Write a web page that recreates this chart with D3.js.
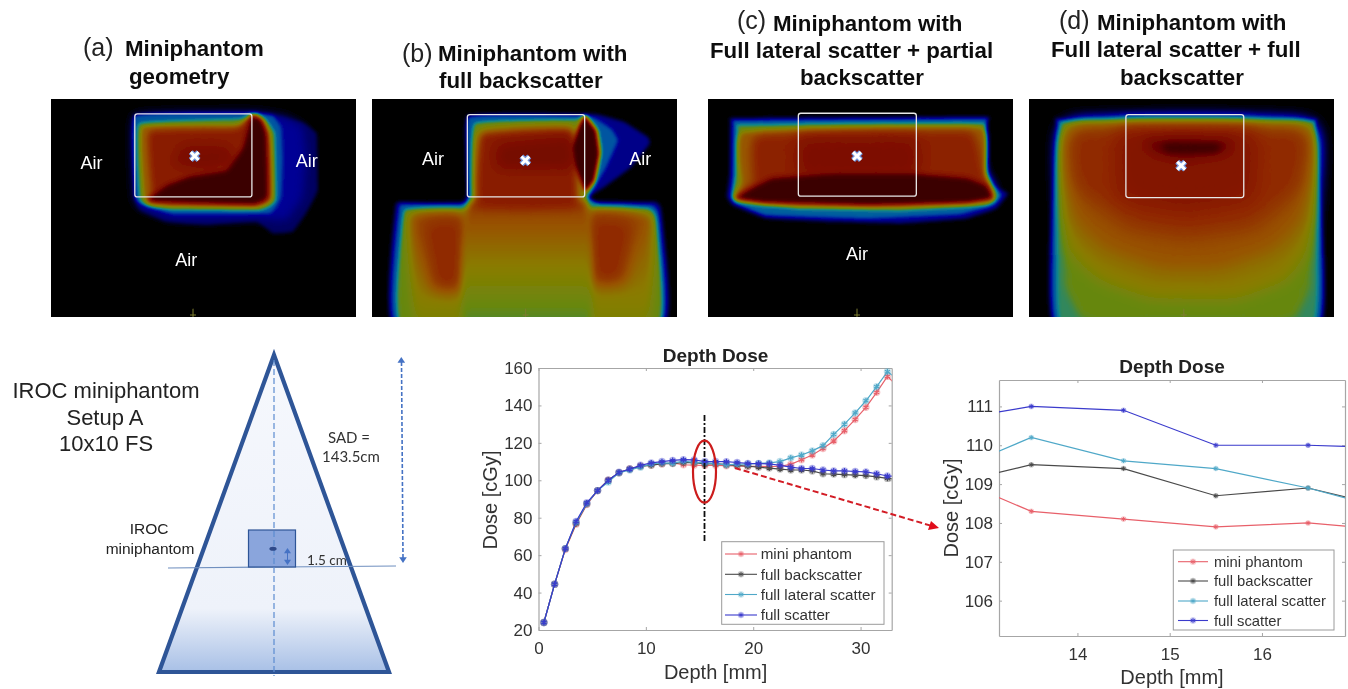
<!DOCTYPE html>
<html>
<head>
<meta charset="utf-8">
<script src="https://cdn.jsdelivr.net/npm/d3@7"></script>
<style>
  body { margin: 0; background: #fff; }
  svg { display: block; font-family: "Liberation Sans", Arial, sans-serif; }
  .calibri { font-family: Lato, "Open Sans", sans-serif; }
</style>
</head>
<body>
<svg width="1348" height="689"></svg>
<script>
// depth dose curves, one value per depth
const depths = [0.5,1.5,2.5,3.5,4.5,5.5,6.5,7.5,8.5,9.5,10.5,11.5,12.5,13.5,14.5,15.5,16.5,17.5,18.5,19.5,20.5,21.5,22.5,23.5,24.5,25.5,26.5,27.5,28.5,29.5,30.5,31.5,32.5,33.5];
const miniPhantom = [24,44.5,63,76.5,87,94.5,100,104,106,107.5,108.2,108.7,109.3,108.3,108.1,107.9,108,107.8,107.7,107.5,107.5,107.3,107.5,108.5,111,113.5,117,121,126.5,132.5,139,147,155.5,150];
const fullBackscatter = [24,44.5,63.5,77,87.5,94.5,100,104,106,107.5,108,108.9,108.93,109.5,109.4,108.7,108.9,108.33,108,107.5,107,106.5,106,105.5,105.5,105,103.5,103.3,103,102.8,102.5,101.8,101,100.5];
const fullLateral = [24,44.5,63.5,77.5,87.5,94.5,99,104,105.5,107,108.7,109.3,109.2,110.2,109.6,109.4,108.9,108.27,108.6,108.6,109,109.3,110,112,113.5,115.7,118.5,124.5,130,136,142.5,150,158,154];
const fullScatter = [24,44.5,63.5,78,88,94.5,100,104.3,106,108,109.3,110,110.6,111,110.9,110,110,109.93,109.5,109,108.9,108.8,108,107,106.3,106.3,105.5,105,105,104.7,104.5,103.5,102.3,102];

const seriesNames = ["mini phantom", "full backscatter", "full lateral scatter", "full scatter"];
const seriesValues = [miniPhantom, fullBackscatter, fullLateral, fullScatter];
const seriesColors = ["#e8606a", "#4a4a4a", "#4fa8c8", "#3a3acc"];

const mainXTicks = [0, 10, 20, 30];
const mainYTicks = [20, 40, 60, 80, 100, 120, 140, 160];
const zoomXTicks = [14, 15, 16];
const zoomYTicks = [106, 107, 108, 109, 110, 111];

// dose colour map for the four CT panels
const doseLevels = [0, 0.08, 0.2, 0.32, 0.42, 0.55, 0.65, 0.75, 0.85, 0.93, 1];
const doseColors = ["#000000", "#00003c", "#000098", "#0050a4", "#10888c", "#68880f", "#8a7c00", "#985400", "#8f2400", "#780800", "#3c0000"];

// isodose outlines [level, points, extra blur]; a level pair is a top-to-bottom gradient
const isodoseA = [
  [0.13, [[285,320],[285,75],[640,65],[700,70],[790,95],[832,130],[835,300],[800,370],[760,425],[700,430],[650,395],[500,405],[380,395],[300,360]], 1],
  [0.2, [[285,320],[285,75],[640,65],[740,80],[790,110],[800,200],[790,320],[740,390],[650,385],[400,385],[300,350]], 5],
  [0.33, [[285,318],[285,75],[640,68],[700,75],[725,110],[730,200],[725,320],[690,370],[400,372],[300,340]], 1],
  [0.55, [[300,325],[298,100],[620,85],[650,68],[680,90],[705,130],[708,330],[660,360],[400,358],[320,345]], 1],
  [0.72, [[312,310],[308,110],[600,103],[635,72],[668,88],[692,135],[695,325],[650,350],[400,347],[320,330]], 1],
  [0.87, [[335,300],[328,122],[590,115],[630,78],[668,100],[685,160],[685,335],[335,340]], 3],
  [0.92, [[400,220],[430,165],[560,165],[590,215],[500,240]], 6],
  [1, [[330,322],[380,285],[450,258],[560,240],[610,170],[635,75],[665,85],[682,130],[685,320],[640,345],[330,335]], 2]
];
const isodoseB = [
  [0.18, [[85,700],[92,350],[110,335],[305,332],[308,75],[660,70],[700,72],[780,95],[850,140],[855,160],[800,230],[720,290],[672,320],[700,335],[870,335],[890,360],[900,700]], 1],
  [0.33, [[95,700],[103,355],[120,342],[312,340],[312,80],[655,75],[695,85],[740,115],[760,150],[725,230],[680,310],[675,325],[710,345],[860,345],[880,370],[890,700]], 1],
  [0.55, [[110,700],[118,370],[135,358],[325,352],[330,100],[630,88],[665,75],[700,120],[710,180],[690,280],[665,320],[680,355],[850,358],[870,385],[880,700]], 1],
  [[0.78,0.6], [[135,375],[302,372],[302,700],[150,700]], 5],
  [[0.78,0.6], [[672,362],[862,378],[855,700],[675,700]], 5],
  [0.84, [[170,395],[300,385],[300,600],[200,600]], 8],
  [0.84, [[672,380],[810,395],[780,580],[675,580]], 8],
  [[0.82,0.5], [[310,335],[665,335],[672,700],[300,700]], 3],
  [0.87, [[345,125],[625,112],[640,350],[335,350]], 4],
  [0.93, [[400,160],[620,140],[625,235],[400,235]], 6],
  [1, [[660,75],[695,120],[705,190],[690,270],[660,305],[632,230],[624,170],[640,110]], 1.5]
];
const isodoseC = [
  [0.18, [[92,92],[108,82],[852,78],[865,92],[868,250],[880,285],[925,310],[890,355],[800,385],[600,400],[400,395],[200,385],[100,345],[82,320],[90,250]], 1],
  [0.35, [[102,100],[116,90],[847,85],[858,100],[860,250],[875,290],[905,315],[880,345],[780,372],[500,385],[200,375],[110,340],[95,320],[100,250]], 1],
  [0.55, [[115,115],[128,105],[842,100],[852,115],[855,250],[870,290],[885,325],[860,345],[600,360],[300,355],[130,335],[100,322],[110,250]], 1],
  [0.74, [[130,125],[845,112],[852,260],[880,325],[600,348],[300,345],[110,325],[125,280]], 2],
  [0.86, [[170,135],[810,122],[850,240],[875,322],[115,322],[160,280]], 5],
  [0.91, [[300,140],[650,140],[650,260],[300,260]], 8],
  [1, [[105,325],[150,295],[220,262],[400,250],[650,250],[800,262],[860,285],[880,325],[800,340],[500,347],[200,340]], 2]
];
const isodoseD = [
  [0.18, [[100,700],[108,105],[125,83],[875,83],[890,105],[905,700]], 1],
  [0.35, [[110,700],[118,108],[132,92],[868,92],[884,112],[895,700]], 1],
  [0.47, [[125,700],[130,118],[145,100],[860,100],[875,120],[880,700]], 1],
  [0.55, [[135,580],[138,118],[152,106],[860,106],[872,118],[872,580],[830,680],[760,700],[240,700],[180,680]], 3],
  [0.66, [[142,470],[145,115],[868,115],[866,470],[800,570],[650,625],[400,625],[240,570]], 8],
  [0.76, [[150,380],[150,115],[865,115],[860,380],[770,480],[600,540],[420,540],[250,480]], 10],
  [0.84, [[165,290],[160,115],[855,115],[840,290],[700,410],[500,440],[330,410]], 10],
  [0.89, [[300,118],[700,118],[700,320],[500,360],[300,320]], 10],
  [0.96, [[370,150],[480,140],[640,150],[620,190],[500,210],[400,190]], 6],
  [1, [[430,160],[600,160],[590,185],[440,185]], 3]
];

const panelFrames = [[51, 99], [372, 99], [708, 99], [1029, 99]];
const panelImageX = [[33, 950], [22, 937], [25, 940], [27, 943]];
const panelOutlines = [isodoseA, isodoseB, isodoseC, isodoseD];
const panelBoxes = [[285, 70, 637, 320], [308, 72, 660, 320], [296, 68, 650, 318], [318, 72, 672, 322]];
const panelCrosshairs = [[465, 197], [482, 210], [472, 197], [484, 226]];
const panelOrigins = [460, 483, 472, 492];

const airLabels = [[0, 155, 235], [0, 802, 230], [0, 440, 527], [1, 205, 225], [1, 827, 225], [2, 472, 510]];

const panelTitles = [
  { tag: "(a)", tagX: 83, tagY: 56, lines: [["Miniphantom", 125, 56], ["geometry", 129, 84]] },
  { tag: "(b)", tagX: 402, tagY: 62, lines: [["Miniphantom with", 438, 61], ["full backscatter", 439, 88]] },
  { tag: "(c)", tagX: 737, tagY: 29, lines: [["Miniphantom with", 773, 31], ["Full lateral scatter + partial", 710, 58], ["backscatter", 800, 85]] },
  { tag: "(d)", tagX: 1059, tagY: 29, lines: [["Miniphantom with", 1097, 30], ["Full lateral scatter + full", 1051, 57], ["backscatter", 1120, 85]] }
];

const svg = d3.select("svg");
const defs = svg.append("defs");
const root = svg.append("g").attr("filter", "url(#soften)");

defs.append("filter").attr("id", "soften")
    .attr("filterUnits", "userSpaceOnUse")
    .attr("x", 0).attr("y", 0).attr("width", 1348).attr("height", 689)
  .append("feGaussianBlur").attr("stdDeviation", 0.35);

// grey dose image -> blur -> colour map
const doseScale = d3.scaleLinear().domain(doseLevels).range(doseColors);
const tableSteps = d3.range(0, 1.0001, 1 / 64).map(t => d3.rgb(doseScale(t)));
const doseFilter = defs.append("filter").attr("id", "doseMap")
    .attr("color-interpolation-filters", "sRGB")
    .attr("filterUnits", "userSpaceOnUse")
    .attr("x", 0).attr("y", 0).attr("width", 1348).attr("height", 689);
doseFilter.append("feGaussianBlur").attr("stdDeviation", 1.6);
const transfer = doseFilter.append("feComponentTransfer");
[["feFuncR", "r"], ["feFuncG", "g"], ["feFuncB", "b"]].forEach(([fn, ch]) => {
  transfer.append(fn).attr("type", "table")
      .attr("tableValues", tableSteps.map(c => (c[ch] / 255).toFixed(3)).join(" "));
});

const grey = v => { const g = Math.round(v * 255); return `rgb(${g},${g},${g})`; };

// one soft edge filter per blur amount
const softFilters = new Set();
function softEdge(amount) {
  const id = "soft" + String(amount).replace(".", "_");
  if (!softFilters.has(id)) {
    softFilters.add(id);
    defs.append("filter").attr("id", id)
        .attr("color-interpolation-filters", "sRGB")
        .attr("filterUnits", "userSpaceOnUse")
        .attr("x", 0).attr("y", 0).attr("width", 1348).attr("height", 689)
      .append("feGaussianBlur").attr("stdDeviation", amount);
  }
  return `url(#${id})`;
}

function drawPanel(i) {
  const [left, top] = panelFrames[i];
  const frameW = 305, frameH = 218;
  const x = d3.scaleLinear().domain(panelImageX[i]).range([left, left + frameW]);
  const y = d3.scaleLinear().domain([25, 682]).range([top, top + frameH]);
  const line = d3.line().x(d => x(d[0])).y(d => y(d[1])).curve(d3.curveCardinalClosed.tension(0.75));

  defs.append("clipPath").attr("id", "frame" + i)
    .append("rect").attr("x", left).attr("y", top).attr("width", frameW).attr("height", frameH);

  const g = root.append("g").attr("clip-path", `url(#frame${i})`);
  const dose = g.append("g").attr("filter", "url(#doseMap)");
  dose.append("rect").attr("x", left - 20).attr("y", top - 20)
      .attr("width", frameW + 40).attr("height", frameH + 40).attr("fill", "#000");

  panelOutlines[i].forEach(([level, pts, soft], k) => {
    let fill;
    if (Array.isArray(level)) {
      const id = `grad${i}_${k}`;
      const grad = defs.append("linearGradient").attr("id", id).attr("x1", 0).attr("x2", 0).attr("y1", 0).attr("y2", 1);
      grad.append("stop").attr("offset", 0).attr("stop-color", grey(level[0]));
      grad.append("stop").attr("offset", 1).attr("stop-color", grey(level[1]));
      fill = `url(#${id})`;
    } else {
      fill = grey(level);
    }
    dose.append("path").attr("d", line(pts)).attr("fill", fill).attr("filter", softEdge(soft));
  });

  const [x0, y0, x1, y1] = panelBoxes[i];
  g.append("rect").attr("x", x(x0)).attr("y", y(y0))
      .attr("width", x(x1) - x(x0)).attr("height", y(y1) - y(y0)).attr("rx", 2.5)
      .attr("fill", "none").attr("stroke", "#e8e8e8").attr("stroke-width", 1.3);

  const [cx, cy] = panelCrosshairs[i];
  const times = d3.symbol().type(d3.symbolTimes).size(42)();
  g.append("path").attr("d", times).attr("transform", `translate(${x(cx)},${y(cy)})`)
      .attr("fill", "none").attr("stroke", "#6f94dc").attr("stroke-width", 5.5);
  g.append("path").attr("d", times).attr("transform", `translate(${x(cx)},${y(cy)})`)
      .attr("fill", "none").attr("stroke", "#fff").attr("stroke-width", 3);

  g.append("line").attr("x1", x(panelOrigins[i])).attr("x2", x(panelOrigins[i]))
      .attr("y1", y(657)).attr("y2", y(682)).attr("stroke", "#7c7c30").attr("stroke-width", 1);
  g.append("line").attr("x1", x(panelOrigins[i]) - 3).attr("x2", x(panelOrigins[i]) + 3)
      .attr("y1", y(676)).attr("y2", y(676)).attr("stroke", "#7c7c30").attr("stroke-width", 1);

  airLabels.filter(d => d[0] === i).forEach(d => {
    g.append("text").attr("x", x(d[1])).attr("y", y(d[2]))
        .attr("text-anchor", "middle").attr("fill", "#fff").attr("font-size", 18).text("Air");
  });
}
d3.range(4).forEach(drawPanel);

// panel headings
panelTitles.forEach(t => {
  root.append("text").attr("x", t.tagX).attr("y", t.tagY).attr("font-size", 25).attr("fill", "#222").text(t.tag);
  t.lines.forEach(([label, lx, ly]) => {
    root.append("text").attr("x", lx).attr("y", ly)
        .attr("font-size", 22.3).attr("font-weight", "bold").attr("fill", "#111").text(label);
  });
});

// setup schematic
function drawSchematic() {
  const g = root.append("g");
  const grad = defs.append("linearGradient").attr("id", "beam").attr("x1", 0).attr("x2", 0).attr("y1", 0).attr("y2", 1);
  [[0, "#f6f8fd"], [0.8, "#eef2fa"], [1, "#a8c0e6"]].forEach(([o, c]) => grad.append("stop").attr("offset", o).attr("stop-color", c));

  g.append("path").attr("d", "M274,355 L389,672 L159,672 Z")
      .attr("fill", "url(#beam)").attr("stroke", "#2f5597").attr("stroke-width", 4.2).attr("stroke-linejoin", "miter");
  g.append("line").attr("x1", 168).attr("y1", 568).attr("x2", 396).attr("y2", 566)
      .attr("stroke", "#6f8fbf").attr("stroke-width", 1.2);
  g.append("rect").attr("x", 248.5).attr("y", 530).attr("width", 47).attr("height", 37)
      .attr("fill", "#8aa5dc").attr("stroke", "#2f5597").attr("stroke-width", 1.2);
  g.append("line").attr("x1", 274).attr("y1", 360).attr("x2", 274).attr("y2", 676)
      .attr("stroke", "#5b8bd0").attr("stroke-width", 1.2).attr("stroke-dasharray", "6,3");
  g.append("ellipse").attr("cx", 273).attr("cy", 548.7).attr("rx", 3.6).attr("ry", 2)
      .attr("fill", "#2f4a8a");

  const head = (px, py, dir, s) => g.append("path")
      .attr("d", `M${px},${py} L${px - s},${py + dir * s * 1.5} L${px + s},${py + dir * s * 1.5} Z`)
      .attr("fill", "#4472c4");
  g.append("line").attr("x1", 287.5).attr("y1", 553).attr("x2", 287.5).attr("y2", 562)
      .attr("stroke", "#4472c4").attr("stroke-width", 1);
  head(287.5, 548, 1, 3.5);
  head(287.5, 565, -1, 3.5);
  g.append("line").attr("x1", 401.5).attr("y1", 362).attr("x2", 403).attr("y2", 558)
      .attr("stroke", "#4472c4").attr("stroke-width", 1.6).attr("stroke-dasharray", "4,2");
  head(401.3, 357, 1, 3.8);
  head(403, 563, -1, 3.8);

  const sans = [["IROC miniphantom", 106, 398, 22], ["Setup A", 105, 425, 22], ["10x10 FS", 106, 451, 22],
                ["IROC", 149, 534, 15.5], ["miniphantom", 150, 554, 15.5]];
  sans.forEach(([s, x, y, size]) => g.append("text").attr("x", x).attr("y", y).attr("text-anchor", "middle")
      .attr("font-size", size).attr("fill", "#222").text(s));
  const cal = [["SAD =", 328, 443, 15], ["143.5cm", 322, 462, 15], ["1.5 cm", 307, 565, 13.5]];
  cal.forEach(([s, x, y, size]) => g.append("text").attr("class", "calibri").attr("x", x).attr("y", y)
      .attr("font-size", size).attr("fill", "#333").text(s));
}
drawSchematic();

// matlab style plot
function drawPlot(c) {
  const x = d3.scaleLinear().domain(c.xDomain).range([c.left, c.right]);
  const y = d3.scaleLinear().domain(c.yDomain).range([c.bottom, c.top]);
  const g = root.append("g");
  const clipId = "plot" + c.id;
  defs.append("clipPath").attr("id", clipId)
    .append("rect").attr("x", c.left).attr("y", c.top).attr("width", c.right - c.left).attr("height", c.bottom - c.top);

  g.append("rect").attr("x", c.left).attr("y", c.top).attr("width", c.right - c.left).attr("height", c.bottom - c.top).attr("fill", "#fff");

  const axes = [
    [d3.axisBottom(x).tickValues(c.xTicks).tickSizeInner(-3).tickSizeOuter(0).tickPadding(c.xPad).tickFormat(d3.format("d")), 0, c.bottom],
    [d3.axisTop(x).tickValues(c.xTicks).tickSizeInner(-3).tickSizeOuter(0).tickFormat(""), 0, c.top],
    [d3.axisLeft(y).tickValues(c.yTicks).tickSizeInner(-3).tickSizeOuter(0).tickPadding(c.yPad).tickFormat(d3.format("d")), c.left, 0],
    [d3.axisRight(y).tickValues(c.yTicks).tickSizeInner(-3).tickSizeOuter(0).tickFormat(""), c.right, 0]
  ];
  axes.forEach(([axis, tx, ty]) => {
    const a = g.append("g").attr("transform", `translate(${tx},${ty})`).call(axis);
    a.select(".domain").attr("stroke", "#a6a6a6").attr("stroke-width", 1.2);
    a.selectAll(".tick line").attr("stroke", "#a6a6a6");
    a.selectAll(".tick text").attr("font-size", 17).attr("fill", "#333").attr("font-family", "Liberation Sans");
  });

  const line = d3.line().x((d, i) => x(depths[i])).y(d => y(d));
  const marks = g.append("g").attr("clip-path", `url(#${clipId})`);
  const star = d3.symbol().type(d3.symbolAsterisk).size(c.markSize)();
  seriesValues.forEach((values, s) => {
    marks.append("path").attr("d", line(values)).attr("fill", "none")
        .attr("stroke", seriesColors[s]).attr("stroke-width", 1.2);
    const pts = marks.selectAll(null).data(values.map((v, i) => [depths[i], v])).enter();
    pts.append("circle").attr("cx", d => x(d[0])).attr("cy", d => y(d[1])).attr("r", c.haloR)
        .attr("fill", seriesColors[s]).attr("opacity", 0.35);
    pts.append("path").attr("d", star).attr("transform", d => `translate(${x(d[0])},${y(d[1])})`)
        .attr("fill", "none").attr("stroke", seriesColors[s]).attr("stroke-width", c.markStroke);
  });

  g.append("text").attr("x", c.titleX).attr("y", c.titleY).attr("text-anchor", "middle")
      .attr("font-size", 19).attr("font-weight", "bold").attr("fill", "#222").text("Depth Dose");
  g.append("text").attr("x", c.titleX).attr("y", c.xLabelY).attr("text-anchor", "middle")
      .attr("font-size", 20).attr("fill", "#333").text("Depth [mm]");
  g.append("text").attr("transform", `translate(${c.yLabelX},${c.yLabelY}) rotate(-90)`).attr("text-anchor", "middle")
      .attr("font-size", 20).attr("fill", "#333").text("Dose [cGy]");

  const [lx0, ly0, lx1, ly1] = c.legendBox;
  g.append("rect").attr("x", lx0).attr("y", ly0).attr("width", lx1 - lx0).attr("height", ly1 - ly0)
      .attr("fill", "#fff").attr("stroke", "#9a9a9a").attr("stroke-width", 1);
  seriesNames.forEach((name, s) => {
    const ry = c.legendRows[s];
    g.append("line").attr("x1", c.legendLine[0]).attr("x2", c.legendLine[1]).attr("y1", ry).attr("y2", ry)
        .attr("stroke", seriesColors[s]).attr("stroke-width", 1.1);
    const mx = (c.legendLine[0] + c.legendLine[1]) / 2;
    g.append("circle").attr("cx", mx).attr("cy", ry).attr("r", 3.2).attr("fill", seriesColors[s]).attr("opacity", 0.3);
    g.append("path").attr("d", d3.symbol().type(d3.symbolAsterisk).size(14)()).attr("transform", `translate(${mx},${ry})`)
        .attr("fill", "none").attr("stroke", seriesColors[s]).attr("stroke-width", 0.9);
    g.append("text").attr("x", c.legendText).attr("y", ry + 5.3).attr("font-size", c.legendSize).attr("fill", "#333").text(name);
  });
}

drawPlot({
  id: "main", xDomain: [0, 32.9], yDomain: [20, 160], left: 538.5, right: 891.7, top: 368, bottom: 630,
  xTicks: mainXTicks, yTicks: mainYTicks, xPad: 12, yPad: 6, markSize: 22, markStroke: 1.2, haloR: 3.7,
  titleX: 715.6, titleY: 362, xLabelY: 679, yLabelX: 497, yLabelY: 500,
  legendBox: [721.7, 541.7, 884, 624.3], legendRows: [554, 574.3, 594.5, 615], legendLine: [725, 757], legendText: 760.7, legendSize: 15.2
});

drawPlot({
  id: "zoom", xDomain: [13.15, 16.9], yDomain: [105.09, 111.68], left: 999, right: 1345, top: 380, bottom: 636,
  xTicks: zoomXTicks, yTicks: zoomYTicks, xPad: 12, yPad: 6, markSize: 12, markStroke: 1, haloR: 2.8,
  titleX: 1172, titleY: 373, xLabelY: 684, yLabelX: 958, yLabelY: 508,
  legendBox: [1173.3, 550, 1334, 630], legendRows: [561.7, 581, 601, 620.5], legendLine: [1178, 1208], legendText: 1214, legendSize: 14.8
});

// annotations on the depth dose plot
const notes = root.append("g");
notes.append("line").attr("x1", 704.5).attr("x2", 704.5).attr("y1", 415).attr("y2", 543)
    .attr("stroke", "#111").attr("stroke-width", 1.8).attr("stroke-dasharray", "6,2,2,2");
notes.append("ellipse").attr("cx", 704.5).attr("cy", 471.7).attr("rx", 11.5).attr("ry", 31)
    .attr("fill", "none").attr("stroke", "#cc1c1c").attr("stroke-width", 2.2);
notes.append("line").attr("x1", 735).attr("y1", 468).attr("x2", 932).attr("y2", 526)
    .attr("stroke", "#d31f26").attr("stroke-width", 2).attr("stroke-dasharray", "6,3");
notes.append("path").attr("d", "M939,528 L928,530 L931,521 Z").attr("fill", "#e0101a");
</script>
</body>
</html>
